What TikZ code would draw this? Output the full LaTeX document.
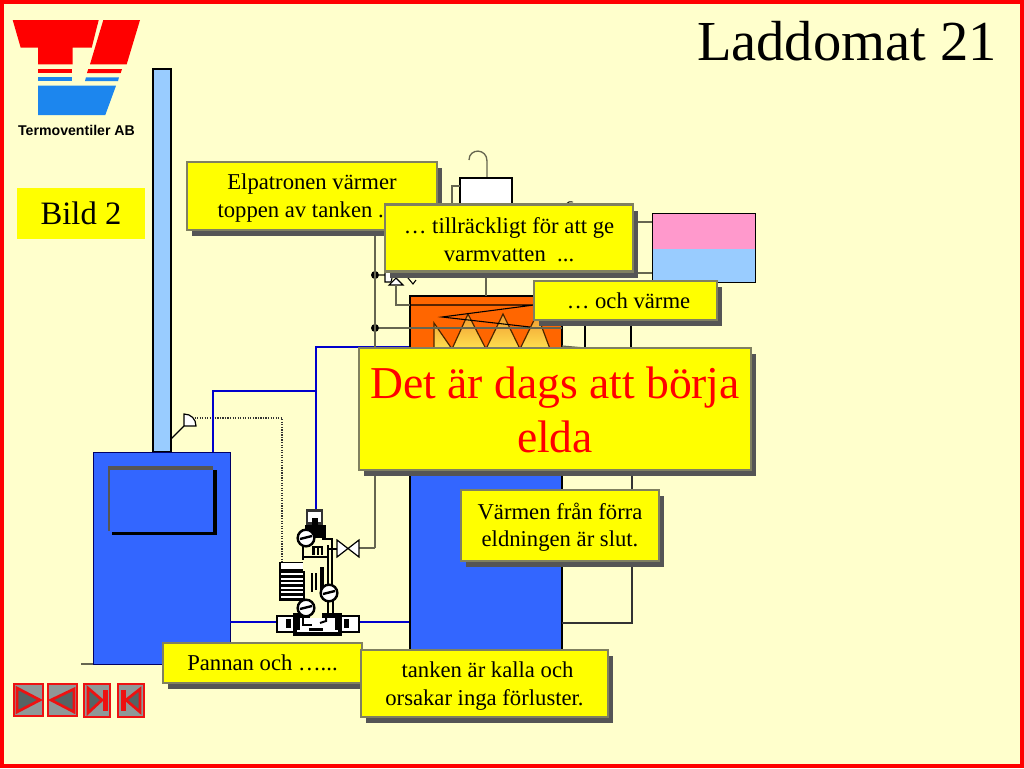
\documentclass[tikz,border=0pt]{standalone}
\usepackage{fontspec}
\setmainfont{Liberation Serif}
\newfontfamily\logofont{Liberation Sans}
\usetikzlibrary{shadows}
\definecolor{pagebg}{HTML}{FFFFCC}
\definecolor{calloutfill}{HTML}{FFFF00}
\definecolor{framered}{HTML}{FF0000}
\definecolor{lightblue}{HTML}{99CCFF}
\definecolor{tankblue}{HTML}{3366FF}
\definecolor{pipeblue}{HTML}{0000CC}
\definecolor{fireorange}{HTML}{FF6600}
\definecolor{calloutedge}{HTML}{808060}
\definecolor{shadowgrey}{HTML}{555555}
\definecolor{wiregrey}{HTML}{666650}
\definecolor{pinkfill}{HTML}{FF99CC}
\definecolor{logoblue}{HTML}{1C86EE}
\definecolor{navgrey}{HTML}{8F9898}
\definecolor{navdark}{HTML}{556464}
\definecolor{navred}{HTML}{EE1111}
\definecolor{flametop}{HTML}{F09A30}
\definecolor{flamebottom}{HTML}{FFE050}
\newcommand{\lowertext}[1]{\rule{0pt}{#1pt}}
\tikzset{
  px/.style={x=0.75pt,y=-0.75pt},
  boxat/.style 2 args={minimum width=#1*0.75pt,minimum height=#2*0.75pt,inner sep=0pt,outer sep=0pt,anchor=center},
  callout/.style 2 args={boxat={#1}{#2},fill=calloutfill,draw=calloutedge,line width=2pt,align=center,
     font=\fontsize{17}{20.8}\selectfont,text=black,
     general shadow={fill=shadowgrey,shadow xshift=4.1pt,shadow yshift=-4.6pt}},
  wire/.style={draw=wiregrey,line width=0.9pt},
  pipe/.style={draw=pipeblue,line width=1.4pt},
  dotwire/.style={draw=black!80,line width=0.9pt,densely dotted},
  junction/.style={circle,fill=black,inner sep=0pt,minimum size=6pt},
  pumpline/.style={draw=black,line width=2pt},
  pumpwhite/.style={draw=black,fill=white,line width=2pt},
  navbtn/.style 2 args={boxat={#1}{#2},fill=navgrey,draw=navred,line width=2.2pt},
  navicon/.style={fill=navdark,draw=navred,line width=2pt,line join=miter},
  navbar/.style={fill=navred,draw=none},
}
\begin{document}
\begin{tikzpicture}[px]
\useasboundingbox (0,0) rectangle (1024,768);
\fill[pagebg] (0,0) rectangle (1024,768);
\draw[framered,line width=3pt] (2,2) rectangle (1022,766);

% logo
\fill[framered] (12.7,20)--(98.7,20)--(91.7,47.7)--(72.7,47.7)--(72.7,64.3)--(38,64.3)--(38,47.7)--(20.7,47.7)--cycle;
\fill[framered] (103.3,20)--(140,20)--(126.7,64.3)--(90,64.3)--cycle;
\fill[framered] (38,69) rectangle (72.3,73);
\fill[framered] (88.3,69)--(122,69)--(120.7,73)--(87,73)--cycle;
\fill[logoblue] (38,77.3) rectangle (72,80.7);
\fill[logoblue] (86,77.3)--(119,77.3)--(118,81)--(85,81)--cycle;
\fill[logoblue] (38,85.7)--(116,85.7)--(105.3,115)--(38,115)--cycle;
\node[font=\logofont\bfseries\fontsize{10.6}{12}\selectfont,inner sep=0pt] (logotext) at (76.5,130) {Termoventiler AB};

% Bild 2
\node[boxat={128}{51},fill=calloutfill,font=\fontsize{24.5}{29}\selectfont] (bild) at (81,213.5) {Bild 2};

% chimney and boiler
\node[boxat={18}{383},fill=lightblue,draw=black,line width=0.8pt] (chimney) at (162,260.5) {};
\node[boxat={137}{212},fill=tankblue,draw=black!60!blue,line width=0.6pt] (boiler) at (161.5,558) {};
\coordinate (boilerfoot) at (81,664);
\draw[wire,line width=1.2pt] (boilerfoot) -- (boiler.south west);
% door
\fill[black] (112,470) rectangle (217,535);
\fill[shadowgrey] (108,466) rectangle (213,531);
\node[boxat={103}{62},fill=tankblue,draw=none] (door) at (161,501) {};

% sensor
\coordinate (sensorcorner) at (184,426);
\coordinate (sensortop) at (184,414);
\coordinate (sensorright) at (196,426);
\coordinate (sensorfoot) at (171,439);
\coordinate (dotcorner) at (282,418);
\coordinate (dotend) at (282,562);
\draw[dotwire] (192,418) -- (dotcorner) -- (dotend);
\draw[black,line width=0.9pt,fill=white] (sensorcorner) -- (sensortop) .. controls (191,414) and (196,419) .. (sensorright) -- cycle;
\draw[black,line width=0.9pt] (sensorcorner) -- (sensorfoot);

% blue pipes
\coordinate (p1) at (213,452);
\coordinate (p2) at (213,391);
\coordinate (p3) at (316,391);
\coordinate (p4) at (316,347);
\coordinate (p5) at (316,510);
\coordinate (p6) at (410,347);
\coordinate (p7) at (230,622);
\coordinate (p8) at (278,622);
\coordinate (p9) at (359,622);
\coordinate (p10) at (410,622);
\draw[pipe] (p1) -- (p2) -- (p3);
\draw[pipe] (p6) -- (p4) -- (p5);
\draw[pipe] (p7) -- (p8);
\draw[pipe] (p9) -- (p10);

% upper tank fittings
\coordinate (hookbase) at (487,178);
\coordinate (hookend) at (469,160);
\draw[wire,line width=1pt] (hookbase) -- (487,161) .. controls (487,148) and (469,148) .. (hookend);
\node[boxat={52}{40},fill=white,draw=black,line width=0.8pt] (heater) at (486,198) {};
\coordinate (sideA) at (452,186);
\draw[wire] (heater.west |- sideA) -- (sideA) -- (452,204);
\draw[black,line width=0.7pt] (566,204) .. controls (568,202) and (570,201) .. (573,202);

% hot water tank
\fill[pinkfill] (652,213) rectangle (755,249);
\fill[lightblue] (652,249) rectangle (755,282);
\node[boxat={103}{69},draw=black,line width=0.7pt] (hotwater) at (703.5,247.5) {};
\coordinate (hwA) at (630,222);
\coordinate (hwB) at (630,273);
\draw[wire] (hwA) -- (hotwater.west |- hwA);
\draw[wire] (hwB) -- (hotwater.west |- hwB);

% main tank
\node[boxat={152}{354},fill=tankblue,draw=black,line width=2pt] (tank) at (486,473) {};
\fill[fireorange] (411,297) rectangle (561,400);
\draw[black,line width=2pt] (tank.north west) -- (tank.north east) -- (562,400);
\draw[black,line width=2pt] (tank.north west) -- (410,400);
% flames
\shade[top color=flametop,bottom color=flamebottom]
  (434,323)--(452,349)--(468,314)--(486,349)--(503,314)--(520,349)--(537,314)--(550,349)--(434,349)--cycle;
\draw[draw=black!70!orange,line width=0.9pt]
  (434,349)--(434,323)--(452,349)--(468,314)--(486,349)--(503,314)--(520,349)--(537,314)--(550,349);

% circuit on left of tank
\node[junction] (j1) at (375,275) {};
\node[junction] (j2) at (375,328) {};
\coordinate (railtop) at (375,230);
\coordinate (railbottom) at (375,548);
\coordinate (coilR) at (562,328);
\draw[wire] (railtop) -- (railbottom);
\draw[wire] (j1) -- (386,275);
\draw[wire] (j2) -- (coilR);
\draw[wire] (486,270) -- (486,296);
\coordinate (trianglefoot) at (396,285);
\draw[black,line width=0.8pt,fill=white] (396,278)--(403,285)--(389,285)--cycle;
\draw[black,line width=0.8pt,fill=white] (385,270)--(385,282)--(391,282)--(394,270);
\draw[black,line width=0.8pt] (408,278)--(413,284)--(416,280);
\coordinate (c0) at (396,305);
\coordinate (c1) at (534,305);
\coordinate (c2) at (442,317);
\coordinate (c3) at (530,327);
\draw[wire] (trianglefoot) -- (c0) -- (tank.west |- c0);
\draw[black,line width=0.8pt] (tank.west |- c0) -- (c1) -- (c2) -- (c3);

% right pipes
\coordinate (r1) at (585,326);
\coordinate (r2) at (585,348);
\coordinate (r3) at (631,326);
\coordinate (r4) at (631,348);
\draw[black,line width=0.8pt] (r1) -- (r2);
\draw[black,line width=0.8pt] (r3) -- (r4);
\draw[wire] (562,346) -- (r2);
\coordinate (r5) at (632,475);
\coordinate (r6) at (632,623);
\draw[wire,draw=black!80] (r5) -- (r6) -- (tank.east |- r6);

% valve
\coordinate (valveR) at (359,548);
\draw[wire] (railbottom) -- (valveR);
\draw[black,line width=0.9pt,fill=white] (337,540)--(359,557)--(359,540)--(337,557)--cycle;
\node[inner sep=0pt] (valve) at (348,548) {};

% pump group
\fill[pagebg] (302,540) rectangle (332,615);
\node[boxat={15}{13},pumpwhite,draw=black!80] (pumptop) at (314.5,517) {};
\fill[black] (305,525) rectangle (326,538);
\fill[black] (312,518) rectangle (318,526);
\draw[pumpline,line width=2.2pt] (303,545) -- (303,560);
\draw[pumpline,line width=2.2pt] (303,570) -- (303,605);
\draw[pumpline] (322,539) -- (332,539) -- (332,590);
\draw[pumpline,line width=1.5pt] (328,545) -- (328,588);
\fill[black] (320,567) rectangle (324,590);
\draw[black,line width=0.9pt] (312,573) -- (312,592);
\draw[black,line width=0.9pt] (316,573) -- (316,590);
\draw[black,line width=1pt] (303,557) -- (328,557);
\fill[black] (312,546) rectangle (323,555);
\fill[pagebg] (315,548) rectangle (317,555);
\fill[pagebg] (319,548) rectangle (321,555);
\draw[black,line width=1pt] (328,549) -- (337,549);
\draw[pumpline,line width=1.5pt] (328,600) -- (328,615);
\draw[pumpline,line width=1.5pt] (333,600) -- (333,615);
% stack
\node[boxat={26}{39},fill=black] (stack) at (292,581) {};
\fill[white] (281,563) rectangle (303,569);
\foreach \yy in {573,577.5,582,586.5,591,595.5} \fill[white] (281,\yy) rectangle (303,\yy+2);
\fill[pagebg] (303,561) rectangle (309,571);
% bottom valve body
\node[boxat={82}{16},pumpwhite] (pumpbase) at (318,624) {};
\fill[black] (293,613) rectangle (342,636);
\fill[pagebg] (310,612) rectangle (322,619);
\fill[white] (297,618) rectangle (338,632);
\fill[black] (293,618) rectangle (300,630);
\fill[black] (335,618) rectangle (342,630);
\fill[white] (307,626) rectangle (325,632);
\fill[black] (309,627.5) rectangle (323,630.5);
\draw[black,line width=1.5pt] (326,614) -- (326,621) -- (320,623);
\draw[black,line width=1.5pt] (303,616) -- (303,625) -- (312,625);
\fill[black] (286,619) rectangle (291,628);
\fill[black] (344,619) rectangle (349,628);
% dials
\foreach \nm/\cx/\cy in {da/306/538,db/329/593,dc/306/608}{
  \node[circle,draw=black,fill=white,line width=1.8pt,minimum size=12.5pt,inner sep=0pt] (\nm) at (\cx,\cy) {};
  \draw[black,line width=1.8pt] (\cx-6,\cy+1) -- (\cx+6,\cy-2);
}

% navigation buttons
\node[navbtn={29}{32}] (nav1) at (28.5,700) {};
\draw[navicon] (17,688) -- (40,700) -- (17,712) -- cycle;
\node[navbtn={29}{32}] (nav2) at (62.5,700) {};
\draw[navicon] (74,689) -- (51,700) -- (74,712) -- cycle;
\node[navbtn={26}{33}] (nav3) at (97,700.5) {};
\draw[navicon] (88,688) -- (102,700) -- (88,713) -- cycle;
\fill[navbar] (103,690) rectangle (108,711);
\node[navbtn={26}{33}] (nav4) at (131,700.5) {};
\draw[navicon] (140,689) -- (126,700) -- (140,712) -- cycle;
\fill[navbar] (121,690) rectangle (126,711);

% title
\node[font=\fontsize{42.4}{50}\selectfont,inner sep=0pt] (title) at (847,41) {Laddomat 21};

% callouts
\node[callout={250}{68}] (c_elp) at (312,196) {\lowertext{15}Elpatronen värmer\\toppen av tanken ...\ \ \ };
\node[callout={248}{67}] (c_till) at (509,238) {\lowertext{15}… tillräckligt för att ge\\varmvatten\ \ ...};
\node[callout={183}{39}] (c_varme) at (625.5,300.5) {\hspace*{4.5pt}… och värme};
\node[callout={392}{122},text=red,font=\fontsize{34.2}{41}\selectfont] (c_big) at (555,409) {\lowertext{25}Det är dags att börja\\elda};
\node[callout={198}{71}] (c_forra) at (560,525.5) {\lowertext{15}Värmen från förra\\eldningen är slut.};
\node[callout={199}{40}] (c_pannan) at (262.5,663) {Pannan och …...};
\node[callout={247}{67}] (c_tanken) at (484.5,683.5) {\lowertext{15.5}\hspace*{4.5pt}tanken är kalla och\\orsakar inga förluster.};
\end{tikzpicture}
\end{document}
